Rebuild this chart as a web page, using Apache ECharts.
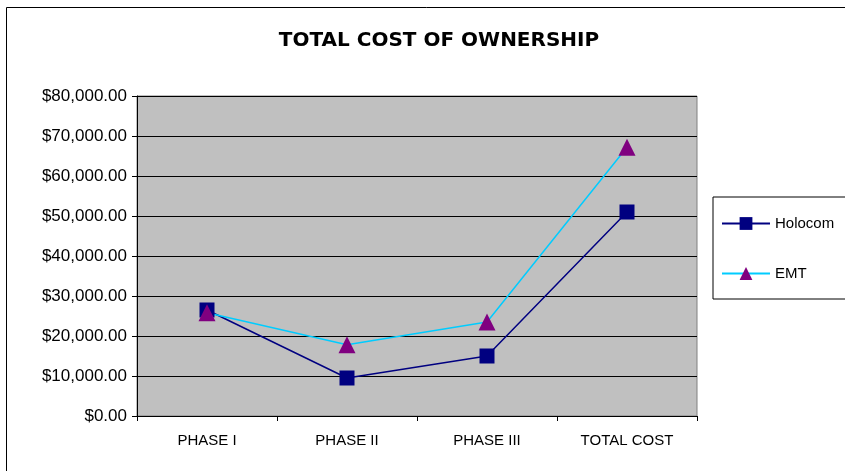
<!DOCTYPE html>
<html>
<head>
<meta charset="utf-8">
<script src="https://cdn.jsdelivr.net/npm/echarts@6/dist/echarts.min.js"></script>
<style>
html, body {margin: 0; padding: 0; background: #fff;}
#chart {width: 845px; height: 471px;}
</style>
</head>
<body>
<div id="chart"></div>
<script>
var categories = ['PHASE I', 'PHASE II', 'PHASE III', 'TOTAL COST'];
var holocom = [26500, 9500, 15000, 51000];
var emt = [25800, 17800, 23500, 67200];

var font = 'Liberation Sans, Arial, sans-serif';
var e = echarts.init(document.getElementById('chart'));

function money(v) {
    return '$' + v.toLocaleString('en-US', {minimumFractionDigits: 2, maximumFractionDigits: 2});
}

e.setOption({
    animation: false,
    backgroundColor: '#fff',
    title: {
        text: 'TOTAL COST OF OWNERSHIP',
        left: 434,
        textAlign: 'center',
        top: 26,
        textStyle: {fontFamily: 'DejaVu Sans', fontSize: 20, fontWeight: 'bold', color: '#000'}
    },
    graphic: [
        {type: 'rect', shape: {x: 6.5, y: 7.5, width: 900, height: 480}, style: {fill: 'none', stroke: '#000', lineWidth: 1}, z: -1}
    ],
    legend: {
        orient: 'vertical',
        left: 713,
        top: 197,
        padding: [19, 40, 18, 8],
        itemGap: 35,
        itemWidth: 48,
        itemHeight: 16,
        borderColor: '#000',
        borderWidth: 1,
        textStyle: {fontFamily: font, fontSize: 15, color: '#000'},
        data: ['Holocom', 'EMT']
    },
    grid: {left: 137, right: 148, top: 96, bottom: 55, show: true, backgroundColor: '#c0c0c0', borderColor: '#808080', borderWidth: 1},
    xAxis: {
        type: 'category',
        data: categories,
        boundaryGap: true,
        axisLine: {lineStyle: {color: '#000', width: 1}},
        axisTick: {show: true, alignWithLabel: false, length: 5, lineStyle: {color: '#000'}},
        axisLabel: {fontFamily: font, fontSize: 15, color: '#000', margin: 17}
    },
    yAxis: {
        type: 'value',
        min: 0,
        max: 80000,
        interval: 10000,
        axisLine: {show: true, lineStyle: {color: '#000'}},
        axisTick: {show: true, length: 5, lineStyle: {color: '#000'}},
        splitLine: {lineStyle: {color: '#000', width: 1}},
        axisLabel: {fontFamily: font, fontSize: 17, color: '#000', margin: 10, formatter: money}
    },
    series: [
        {
            name: 'Holocom',
            type: 'line',
            data: holocom,
            symbol: 'rect',
            symbolSize: 15,
            itemStyle: {color: '#000080'},
            lineStyle: {color: '#000080', width: 1.5}
        },
        {
            name: 'EMT',
            type: 'line',
            data: emt,
            symbol: 'triangle',
            symbolSize: 17,
            itemStyle: {color: '#800080'},
            lineStyle: {color: '#00ccff', width: 1.5}
        }
    ]
});
</script>
</body>
</html>
